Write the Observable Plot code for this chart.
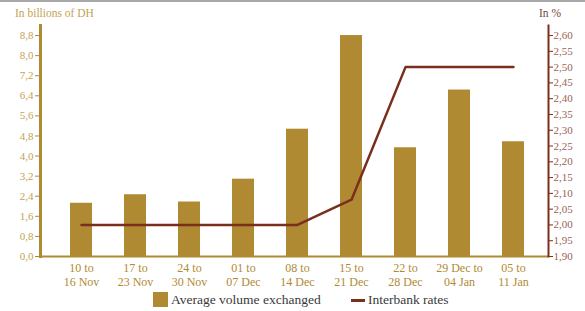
<!DOCTYPE html>
<html><head><meta charset="utf-8">
<script src="https://cdn.jsdelivr.net/npm/d3@7"></script>
<script src="https://cdn.jsdelivr.net/npm/@observablehq/plot@0.6"></script>
<style>
body{margin:0;background:#fff;}
#chart{position:relative;width:585px;height:311px;overflow:hidden;font-family:"Liberation Serif",serif;}
#chart svg{position:absolute;left:0;top:0;}
#chart svg text{font-family:"Liberation Serif",serif;}
#topline{position:absolute;left:0;top:0;width:585px;height:2px;background:#a8a8a8;}
.ttl{position:absolute;top:5px;font-size:11.5px;line-height:16px;white-space:nowrap;}
.legend{position:absolute;top:290px;left:0;width:585px;height:20px;font-size:13.5px;color:#3a3a3a;}
.sw{position:absolute;}
.lt{position:absolute;top:0;line-height:19px;white-space:nowrap;}
</style></head><body><div id="chart"><div id="topline"></div></div>
<script>
const weeks = ["10 to\n16 Nov","17 to\n23 Nov","24 to\n30 Nov","01 to\n07 Dec","08 to\n14 Dec","15 to\n21 Dec","22 to\n28 Dec","29 Dec to\n04 Jan","05 to\n11 Jan"];
const volumes = [2.12, 2.46, 2.17, 3.08, 5.07, 8.8, 4.33, 6.63, 4.57];
const rates = [2.00, 2.00, 2.00, 2.00, 2.00, 2.08, 2.50, 2.50, 2.50];
const volumeTicks = [0, 0.8, 1.6, 2.4, 3.2, 4.0, 4.8, 5.6, 6.4, 7.2, 8.0, 8.8];
const rateTicks = [1.90, 1.95, 2.00, 2.05, 2.10, 2.15, 2.20, 2.25, 2.30, 2.35, 2.40, 2.45, 2.50, 2.55, 2.60];
const seriesNames = ["Average volume exchanged", "Interbank rates"];
const axisTitles = ["In billions of DH", "In %"];

const gold = "#b08a33", goldText = "#c3a354", brown = "#7a2f1c", brownText = "#9a6455";
const rMin = rateTicks[0], rMax = rateTicks[rateTicks.length-1];
const vMax = volumeTicks[volumeTicks.length-1];
const toY = r => (r - rMin) / (rMax - rMin) * vMax;
const fromY = y => rMin + y / vMax * (rMax - rMin);
const comma = (v, d) => v.toFixed(d).replace(".", ",");

const data = weeks.map((w, i) => ({week: w, volume: volumes[i], rate: rates[i]}));

const plot = Plot.plot({
  width: 585, height: 290,
  marginLeft: 40, marginRight: 37, marginTop: 25, marginBottom: 34,
  style: "font-family: 'Liberation Serif', serif; font-size: 11px; background: transparent;",
  x: {domain: weeks, paddingInner: 0.588, paddingOuter: 0.444, align: 0.55},
  y: {domain: [0, 9.2]},
  marks: [
    Plot.barY(data, {x: "week", y: "volume", fill: gold}),
    Plot.ruleY([0], {stroke: gold, strokeWidth: 2}),
    Plot.frame({anchor: "left", stroke: gold, strokeWidth: 3}),
    Plot.frame({anchor: "right", stroke: brown, strokeWidth: 2}),
    Plot.line(data, {x: "week", y: d => toY(d.rate), stroke: brown, strokeWidth: 2.5}),
    Plot.axisY({anchor: "left", ticks: volumeTicks, tickFormat: d => comma(d, 1), tickSize: 5, tickPadding: 2,
      stroke: gold, fill: goldText, label: null}),
    Plot.axisY({anchor: "right", ticks: rateTicks.map(toY), tickFormat: d => comma(fromY(d), 2), tickSize: 4, tickPadding: 1,
      stroke: brown, fill: brownText, label: null}),
    Plot.axisX({tickSize: 0, tickPadding: 6, fill: gold, fontSize: "12px", label: null, lineHeight: 1.15})
  ]
});
const chart = document.getElementById("chart");
chart.appendChild(plot);

const t1 = document.createElement("div");
t1.className = "ttl"; t1.style.left = "15px"; t1.style.color = goldText; t1.textContent = axisTitles[0];
const t2 = document.createElement("div");
t2.className = "ttl"; t2.style.left = "539px"; t2.style.color = "#6e4a3c"; t2.textContent = axisTitles[1];
chart.appendChild(t1); chart.appendChild(t2);

const legend = document.createElement("div");
legend.className = "legend";
legend.innerHTML =
  `<div class="sw" style="left:153px;top:2px;width:15px;height:15px;background:${gold}"></div>` +
  `<div class="lt" style="left:171px">${seriesNames[0]}</div>` +
  `<div class="sw" style="left:351px;top:9px;width:14px;height:2.5px;background:${brown}"></div>` +
  `<div class="lt" style="left:368px">${seriesNames[1]}</div>`;
chart.appendChild(legend);
</script>
</body></html>
